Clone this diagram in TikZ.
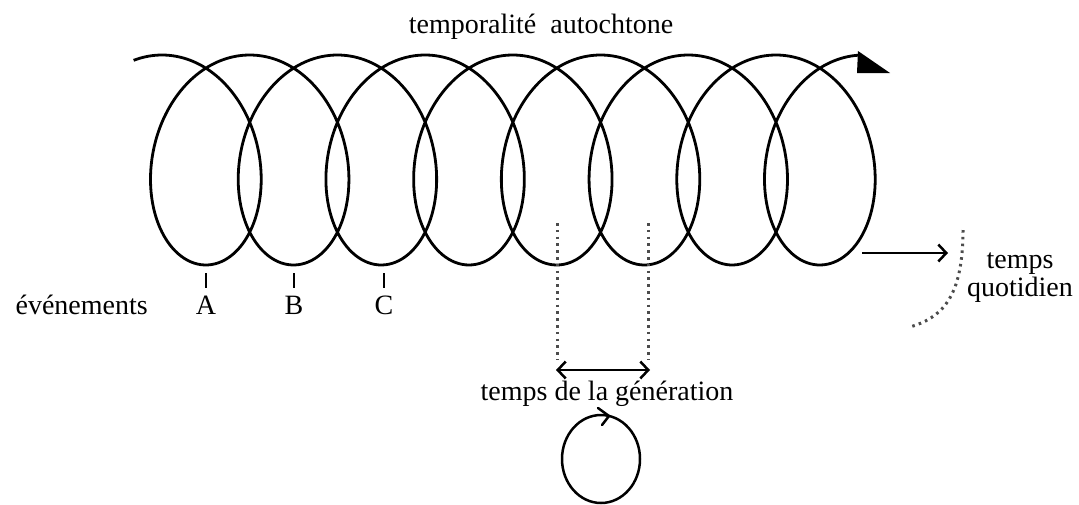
\documentclass[tikz,border=0pt]{standalone}
\usepackage{fontspec}
\setmainfont{Liberation Serif}
\usetikzlibrary{arrows.meta,shapes.geometric}
\tikzset{
  lbl/.style={inner sep=0pt, anchor=base, font=\fontsize{28}{32}\selectfont},
  coil/.style={line width=2.8pt, line join=round},
  tick/.style={line width=2.6pt},
  dotline/.style={line width=3pt, dash pattern=on 2.6pt off 4.2pt, black!70},
  barb/.style={line width=2.5pt, -{Straight Barb[length=8pt,width=17pt,line width=2.5pt]}},
  dbarb/.style={line width=2.5pt, {Straight Barb[length=8pt,width=17pt,line width=2.5pt]}-{Straight Barb[length=8pt,width=17pt,line width=2.5pt]}}
}
\begin{document}
\begin{tikzpicture}[x=1pt,y=-1pt]
\useasboundingbox (0,0) rectangle (1079,504);
% coil
\draw[coil] plot[domain=-0.32:50.21, samples=900, smooth, variable=\t]
  ({162+13.96*\t+76*sin(\t r)}, {160-105*cos(\t r)});
\fill (858,51) -- (857,73) -- (890,73) -- cycle;
% titles
\node[lbl] (top) at (541,33) {temporalité\ \ autochtone};
\node[lbl, anchor=base east] (ev) at (148,314) {événements};
\node[lbl] (A) at (206,314) {A};
\node[lbl] (B) at (294,314) {B};
\node[lbl] (C) at (384,314) {C};
\draw[tick] (206,273) -- (206,288);
\draw[tick] (294,273) -- (294,288);
\draw[tick] (384,273) -- (384,288);
% temps quotidien
\node[lbl] (tq1) at (1020,268) {temps};
\node[lbl] (tq2) at (1020,296) {quotidien};
\coordinate (qa) at (862,253);
\coordinate (qb) at (948,253);
\draw[barb] (qa) -- (qb);
\coordinate (d1) at (963,230);
\coordinate (d2) at (910,327);
\draw[dotline] (d1) .. controls (963,300) and (940,318) .. (d2);
% generation
\coordinate (g1t) at (557,223);
\coordinate (g1b) at (557,360);
\coordinate (g2t) at (648,223);
\coordinate (g2b) at (648,360);
\draw[dotline] (g1t) -- (g1b);
\draw[dotline] (g2t) -- (g2b);
\coordinate (ga) at (556,370);
\coordinate (gb) at (650,370);
\draw[dbarb] (ga) -- (gb);
\node[lbl] (gen) at (607,400) {temps de la génération};
\node[draw, line width=2.5pt, ellipse, minimum width=78pt, minimum height=88pt, inner sep=0pt] (cyc) at (601,459) {};
\draw[line width=2.5pt, line cap=round, line join=round] (598,408) -- (609,416) -- (602,425);
\end{tikzpicture}
\end{document}
